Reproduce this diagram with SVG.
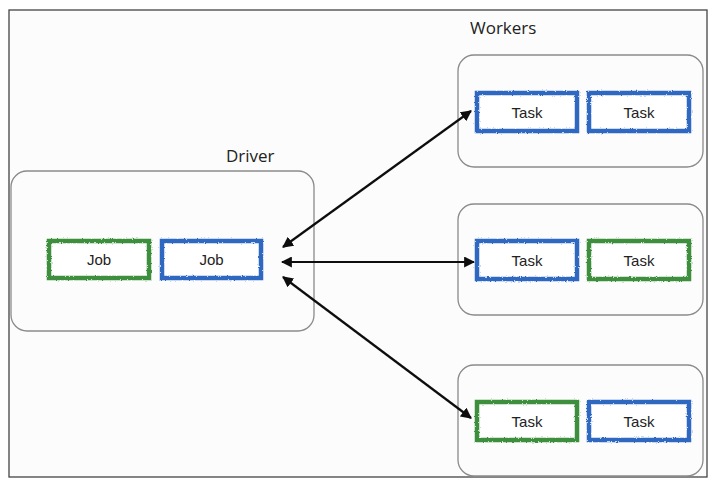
<svg xmlns="http://www.w3.org/2000/svg" width="716" height="493" viewBox="0 0 716 493">
<style>
.group{fill:#fcfcfc;stroke:#8a8a8a;stroke-width:1.3}
.task{fill:#ffffff;stroke-width:4.5;filter:url(#rough)}
.g{stroke:#3c8f3c}
.b{stroke:#2e68c0}
.lbl{font-family:"Liberation Sans",Arial,sans-serif;font-size:15px;fill:#222;text-anchor:middle}
.title{font-family:"Open Sans","Noto Sans",sans-serif;font-size:17px;fill:#222}
.conn{stroke:#111;stroke-width:2.2;fill:none;marker-start:url(#ah);marker-end:url(#ah);filter:url(#rough2)}
</style>
<defs>
<filter id="rough" x="-5%" y="-20%" width="110%" height="140%">
<feTurbulence type="fractalNoise" baseFrequency="0.8" numOctaves="2" seed="3" result="n"/>
<feDisplacementMap in="SourceGraphic" in2="n" scale="2.5" xChannelSelector="R" yChannelSelector="G"/>
</filter>
<filter id="rough2" filterUnits="userSpaceOnUse" x="0" y="0" width="716" height="493">
<feTurbulence type="fractalNoise" baseFrequency="0.9" numOctaves="1" seed="5" result="n"/>
<feDisplacementMap in="SourceGraphic" in2="n" scale="1.5" xChannelSelector="R" yChannelSelector="G"/>
</filter>
<marker id="ah" viewBox="0 0 10 10" refX="9" refY="5" markerWidth="5" markerHeight="5" orient="auto-start-reverse" markerUnits="strokeWidth">
<path d="M0,0 L10,5 L0,10 z" fill="#111"/>
</marker>
</defs>
<rect x="0" y="0" width="716" height="493" fill="#ffffff"/>
<rect x="9" y="10" width="698" height="467" fill="#fcfcfc" stroke="#444" stroke-width="1.3"/>

<g id="driver">
<text class="title" x="226" y="162">Driver</text>
<rect class="group" x="11" y="171" width="303" height="160" rx="16"/>
<g id="job1"><rect class="task g" x="49" y="241" width="100" height="37"/><text class="lbl" x="99" y="265">Job</text></g>
<g id="job2"><rect class="task b" x="162" y="241" width="99" height="37"/><text class="lbl" x="211.5" y="265">Job</text></g>
</g>

<text class="title" x="470" y="34">Workers</text>

<g id="worker1">
<rect class="group" x="458" y="55" width="245" height="112" rx="16"/>
<g id="task1a"><rect class="task b" x="477" y="93" width="100" height="38"/><text class="lbl" x="527" y="117.5">Task</text></g>
<g id="task1b"><rect class="task b" x="589" y="93" width="100" height="38"/><text class="lbl" x="639" y="117.5">Task</text></g>
</g>

<g id="worker2">
<rect class="group" x="458" y="204" width="245" height="111" rx="16"/>
<g id="task2a"><rect class="task b" x="477" y="241" width="100" height="38"/><text class="lbl" x="527" y="265.5">Task</text></g>
<g id="task2b"><rect class="task g" x="589" y="241" width="100" height="38"/><text class="lbl" x="639" y="265.5">Task</text></g>
</g>

<g id="worker3">
<rect class="group" x="458" y="365" width="245" height="111" rx="16"/>
<g id="task3a"><rect class="task g" x="477" y="402" width="100" height="38"/><text class="lbl" x="527" y="426.5">Task</text></g>
<g id="task3b"><rect class="task b" x="589" y="402" width="100" height="38"/><text class="lbl" x="639" y="426.5">Task</text></g>
</g>

<g id="connectors">
<line class="conn" x1="283" y1="247" x2="471" y2="111"/>
<line class="conn" x1="282" y1="262" x2="474" y2="262"/>
<line class="conn" x1="283" y1="277" x2="471" y2="418"/>
</g>
</svg>
